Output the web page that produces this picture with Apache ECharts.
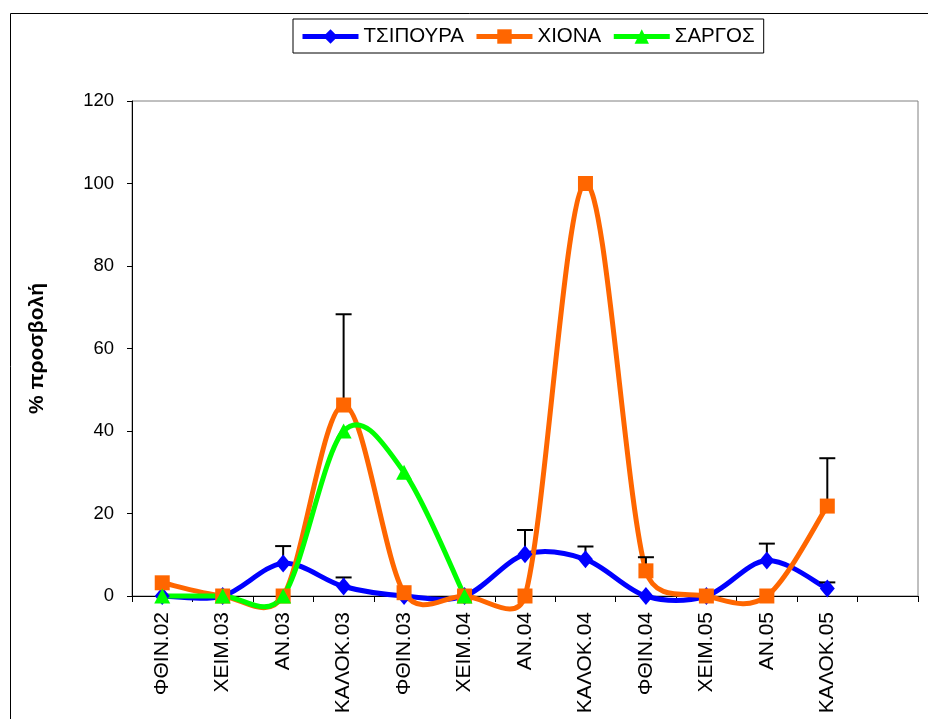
<!DOCTYPE html>
<html>
<head>
<meta charset="utf-8">
<script src="https://cdn.jsdelivr.net/npm/echarts@6/dist/echarts.min.js"></script>
<style>
  html, body { margin: 0; padding: 0; background: #fff; }
  #chart { width: 928px; height: 719px; }
</style>
</head>
<body>
<div id="chart"></div>
<script>
// Seasons (the last slot is left empty on purpose)
const categories = ['ΦΘΙΝ.02', 'ΧΕΙΜ.03', 'ΑΝ.03', 'ΚΑΛΟΚ.03', 'ΦΘΙΝ.03', 'ΧΕΙΜ.04',
                    'ΑΝ.04', 'ΚΑΛΟΚ.04', 'ΦΘΙΝ.04', 'ΧΕΙΜ.05', 'ΑΝ.05', 'ΚΑΛΟΚ.05', ''];

const seriesNames = ['ΤΣΙΠΟΥΡΑ', 'ΧΙΟΝΑ', 'ΣΑΡΓΟΣ'];

// % infestation per season
const tsipoura = [0, 0, 7.9, 2.3, 0, 0, 10.1, 8.9, 0, 0, 8.6, 1.8];
const xiona    = [3.2, 0, 0, 46.3, 0.8, 0, 0, 100, 6.1, 0, 0, 21.8];
const sargos   = [0, 0, 0, 40, 30, 0];

// upper error (standard error) per season, null where none
const tsipouraErr = [null, null, 4.2, 2.2, null, null, 5.9, 3.1, null, null, 4.1, 1.5];
const xionaErr    = [null, null, null, 22, null, null, null, null, 3.3, null, null, 11.6];

const yTicks = { min: 0, max: 120, step: 20 };

const FONT = '"Liberation Sans", Arial, sans-serif';
const colors = ['#0000FF', '#FF6600', '#00FF00'];
const symbols = ['diamond', 'rect', 'triangle'];
const symbolSizes = [[15, 18], 15, [16, 15]];
const values = [tsipoura, xiona, sargos];
const errors = [tsipouraErr, xionaErr, null];

// Smooth curve through the points: cardinal spline in bezier form,
// each handle limited to half of its segment to keep overshoot small.
function curveItem(vals, color) {
  return function (params, api) {
    if (params.dataIndex !== 0) return null;
    const pts = [];
    vals.forEach((v, i) => { if (v != null) pts.push(api.coord([i, v])); });
    const n = pts.length;
    const tang = pts.map((p, i) => {
      const a = pts[Math.max(i - 1, 0)], b = pts[Math.min(i + 1, n - 1)];
      return [(b[0] - a[0]) / 6, (b[1] - a[1]) / 6];
    });
    const clip = (t, segLen) => {
      const len = Math.hypot(t[0], t[1]);
      const lim = segLen / 2;
      if (len > lim && len > 0) return [t[0] * lim / len, t[1] * lim / len];
      return t;
    };
    let d = 'M' + pts[0][0] + ' ' + pts[0][1];
    for (let i = 0; i < n - 1; i++) {
      const p1 = pts[i], p2 = pts[i + 1];
      const seg = Math.hypot(p2[0] - p1[0], p2[1] - p1[1]);
      const t1 = clip(tang[i], seg), t2 = clip(tang[i + 1], seg);
      d += ' C' + (p1[0] + t1[0]) + ' ' + (p1[1] + t1[1]) + ' ' +
           (p2[0] - t2[0]) + ' ' + (p2[1] - t2[1]) + ' ' + p2[0] + ' ' + p2[1];
    }
    return {
      type: 'path',
      shape: { pathData: d },
      style: { fill: 'none', stroke: color, lineWidth: 5, lineJoin: 'round', lineCap: 'round' }
    };
  };
}

function errorBarItem(params, api) {
  const x = api.value(0), v = api.value(1), e = api.value(2);
  const p = api.coord([x, v]);
  const t = api.coord([x, v + e]);
  const st = { stroke: '#000', lineWidth: 2 };
  return {
    type: 'group',
    children: [
      { type: 'line', shape: { x1: p[0], y1: p[1], x2: t[0], y2: t[1] }, style: st },
      { type: 'line', shape: { x1: t[0] - 8, y1: t[1], x2: t[0] + 8, y2: t[1] }, style: st }
    ]
  };
}

const series = [];
// curves
values.forEach((vals, k) => {
  series.push({
    type: 'custom',
    name: 'curve' + k,
    renderItem: curveItem(vals, colors[k]),
    data: [[0, vals[0]]],
    silent: true,
    clip: false,
    z: 2 + k * 0.1
  });
});
// error bars
errors.forEach((errs, k) => {
  if (!errs) return;
  const data = [];
  errs.forEach((e, i) => { if (e != null) data.push([i, values[k][i], e]); });
  series.push({
    type: 'custom',
    name: 'err' + k,
    renderItem: errorBarItem,
    data: data,
    silent: true,
    clip: false,
    z: 3
  });
});
// markers
values.forEach((vals, k) => {
  series.push({
    type: 'line',
    name: seriesNames[k],
    data: vals,
    symbol: symbols[k],
    symbolSize: symbolSizes[k],
    showAllSymbol: true,
    color: colors[k],
    itemStyle: { color: colors[k], borderWidth: 0 },
    lineStyle: { color: colors[k], width: 5, opacity: 0 },
    emphasis: { disabled: true },
    animation: false,
    z: 4 + k * 0.1
  });
});

const chart = echarts.init(document.getElementById('chart'), null, { renderer: 'canvas' });
chart.setOption({
  animation: false,
  backgroundColor: '#fff',
  graphic: [{
    type: 'rect',
    shape: { x: 10.5, y: 13.5, width: 1000, height: 1000 },
    style: { fill: 'none', stroke: '#000', lineWidth: 1 },
    silent: true,
    z: 0
  }],
  legend: {
    data: seriesNames,
    left: 293,
    top: 19,
    padding: [7, 9, 6, 7],
    itemWidth: 56,
    itemHeight: 18,
    itemGap: 10,
    borderColor: '#000',
    borderWidth: 1,
    borderRadius: 0,
    selectedMode: false,
    textStyle: { fontFamily: FONT, fontSize: 20.5, color: '#000' },
    lineStyle: { width: 5, opacity: 1 }
  },
  grid: {
    left: 132, right: 10, top: 101, bottom: 123,
    show: true, borderColor: '#808080', borderWidth: 1,
    outerBoundsMode: 'none'
  },
  xAxis: {
    type: 'category',
    data: categories,
    boundaryGap: true,
    axisLine: { show: true, onZero: true, lineStyle: { color: '#000', width: 1 } },
    axisTick: { show: true, inside: false, length: 6, interval: 0, lineStyle: { color: '#000' } },
    axisLabel: { interval: 0, rotate: 90, margin: 16, fontFamily: FONT, fontSize: 21, color: '#000' },
    splitLine: { show: false }
  },
  yAxis: {
    type: 'value',
    min: yTicks.min, max: yTicks.max, interval: yTicks.step,
    name: '% προσβολή',
    nameLocation: 'middle',
    nameGap: 84,
    nameTextStyle: { fontFamily: FONT, fontSize: 21, fontWeight: 'bold', color: '#000' },
    axisLine: { show: true, lineStyle: { color: '#000', width: 1 } },
    axisTick: { show: true, inside: false, length: 5, lineStyle: { color: '#000' } },
    axisLabel: { margin: 18, fontFamily: FONT, fontSize: 18.5, color: '#000' },
    splitLine: { show: false }
  },
  series: series
});
</script>
</body>
</html>
